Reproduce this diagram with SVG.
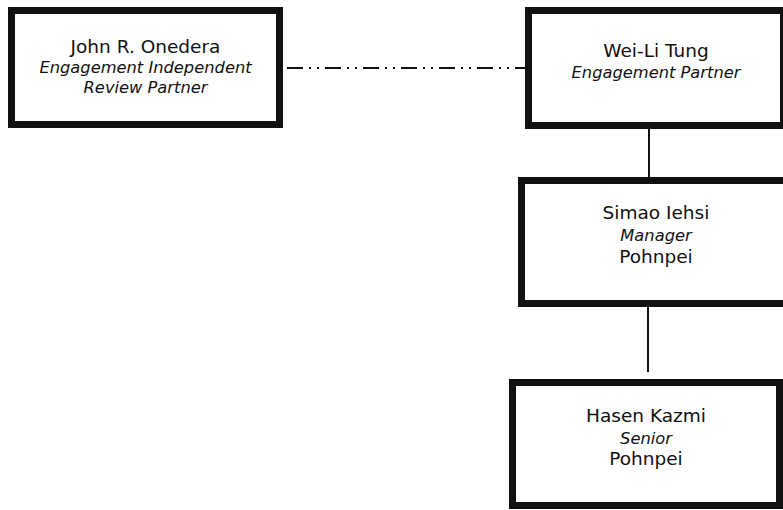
<svg xmlns="http://www.w3.org/2000/svg" width="783" height="510" viewBox="0 0 783 510">
<style>
.box{fill:#fff;stroke:#111;stroke-width:7}
.name{font-family:"DejaVu Sans",sans-serif;font-size:18.5px;fill:#111;text-anchor:middle}
.role{font-family:"DejaVu Sans",sans-serif;font-size:16.3px;font-style:italic;fill:#111;text-anchor:middle}
.conn{stroke:#111;stroke-width:2;fill:none}
</style>
<rect width="783" height="510" fill="#fff"/>
<g id="connectors">
<line class="conn" x1="287" y1="68" x2="525" y2="68" stroke-dasharray="16 6 2 6 2 6"/>
<line class="conn" x1="649" y1="129" x2="649" y2="177"/>
<line class="conn" x1="648" y1="307" x2="648" y2="372"/>
</g>
<g id="node-onedera">
<rect class="box" x="11.5" y="10.5" width="268" height="114"/>
<text class="name" x="145.5" y="53">John R. Onedera</text>
<text class="role" x="145.5" y="73">Engagement Independent</text>
<text class="role" x="145.5" y="93">Review Partner</text>
</g>
<g id="node-tung">
<rect class="box" x="528.5" y="10.5" width="255" height="115"/>
<text class="name" x="656" y="57">Wei-Li Tung</text>
<text class="role" x="656" y="78">Engagement Partner</text>
</g>
<g id="node-iehsi">
<rect class="box" x="521.5" y="180.5" width="269" height="123"/>
<text class="name" x="656" y="219">Simao Iehsi</text>
<text class="role" x="656" y="241">Manager</text>
<text class="name" x="656" y="263">Pohnpei</text>
</g>
<g id="node-kazmi">
<rect class="box" x="512.5" y="382.5" width="267" height="123"/>
<text class="name" x="646" y="422">Hasen Kazmi</text>
<text class="role" x="646" y="444">Senior</text>
<text class="name" x="646" y="465">Pohnpei</text>
</g>
</svg>
